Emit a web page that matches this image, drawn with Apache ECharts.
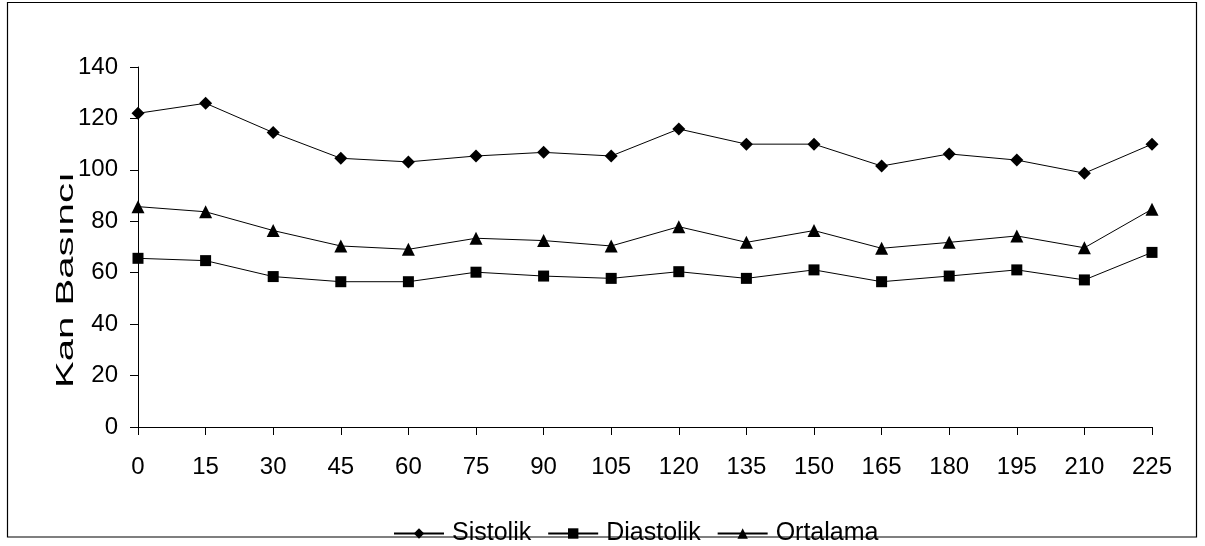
<!DOCTYPE html>
<html><head><meta charset="utf-8">
<script src="https://cdn.jsdelivr.net/npm/echarts@6/dist/echarts.min.js"></script>
<style>html,body{margin:0;padding:0;background:#fff}#c{width:1205px;height:546px}</style>
</head><body><div id="c"></div>
<script>
const categories = ['0','15','30','45','60','75','90','105','120','135','150','165','180','195','210','225'];
const sistolik = [122.0,125.9,114.5,104.5,103.1,105.4,106.8,105.4,115.9,110.0,110.0,101.5,106.2,103.8,98.7,110.0];
const diastolik = [65.6,64.7,58.5,56.5,56.5,60.2,58.7,57.8,60.4,57.8,61.1,56.5,58.7,61.1,57.2,67.9];
const ortalama = [85.7,83.7,76.4,70.4,69.1,73.4,72.5,70.4,77.9,71.8,76.4,69.5,71.8,74.3,69.7,84.7];
const yTicks = [0,20,40,60,80,100,120,140];
const yTitle = 'Kan Basıncı';

const chart = echarts.init(document.getElementById('c'), null, {renderer:'canvas'});
const font = 'Liberation Sans, Arial, sans-serif';
function ser(name, data, symbol, size){
  return {name, type:'line', data, symbol, symbolSize:size, showSymbol:true,
    lineStyle:{color:'#000', width:1}, itemStyle:{color:'#000'}, animation:false};
}
chart.setOption({
  animation:false,
  backgroundColor:'#fff',
  graphic:[
    {type:'rect', shape:{x:7.5,y:2.5,width:1189,height:534.5}, style:{fill:'none', stroke:'#000', lineWidth:1.2}, z:100},
    {type:'text', x:66, y:280, rotation:Math.PI/2, scaleX:1.67, scaleY:1,
      style:{text:yTitle, font:'24px "Liberation Sans", Arial, sans-serif', fill:'#000', align:'center', verticalAlign:'middle'}}
  ],
  grid:{left:138, right:53, top:67, bottom:119, containLabel:false},
  legend:{top:516, left:388, itemWidth:50, itemHeight:13, itemGap:16,
    textStyle:{fontFamily:font, fontSize:25, color:'#000', padding:[0,0,0,3]},
    data:['Sistolik','Diastolik','Ortalama']},
  xAxis:{type:'category', data:categories, boundaryGap:false,
    axisLine:{lineStyle:{color:'#000', width:1}},
    axisTick:{show:true, length:8, lineStyle:{color:'#000'}},
    axisLabel:{color:'#000', fontFamily:font, fontSize:24, margin:28, interval:0},
    splitLine:{show:false}},
  yAxis:{type:'value', min:0, max:140, interval:20,
    axisLine:{show:true, lineStyle:{color:'#000', width:1}},
    axisTick:{show:true, length:8, lineStyle:{color:'#000'}},
    axisLabel:{color:'#000', fontFamily:font, fontSize:24, margin:20,
      formatter: v => yTicks.includes(v) ? String(v) : ''},
    splitLine:{show:false}},
  series:[
    ser('Sistolik', sistolik, 'diamond', 13),
    ser('Diastolik', diastolik, 'rect', 11),
    ser('Ortalama', ortalama, 'triangle', 13)
  ]
});
</script></body></html>
